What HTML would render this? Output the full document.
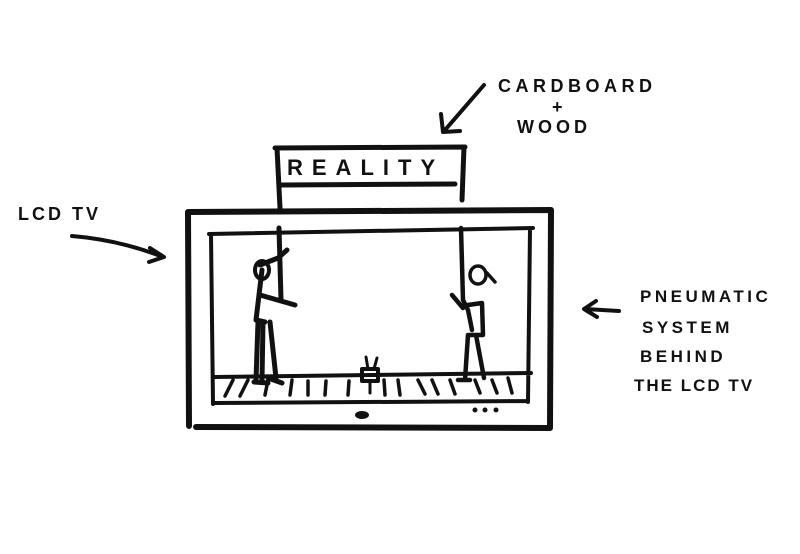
<!DOCTYPE html>
<html><head><style>html,body{margin:0;padding:0;background:#fff}svg{display:block}</style></head>
<body>
<svg width="800" height="554" viewBox="0 0 800 554" xmlns="http://www.w3.org/2000/svg">
<rect width="800" height="554" fill="#fff"/>
<g stroke="#111" stroke-linecap="round" stroke-linejoin="round" fill="none">
<path d="M275 148 L465 147 M277 148 L280 208 M464 147 L462 200 M282 185 L455 184" stroke-width="5"/>
<path d="M189 212 L551 210 M188 212 L189 426 M551 210 L550 427 M196 427 L550 428" stroke-width="6"/>
<path d="M209 234 L533 228 M211 235 L213 404 M530 229 L528 402 M215 403 L528 401 M215 377 L531 373" stroke-width="4"/>
<path d="M225 396 L233 380 M240 396 L248 380 M265 395 L268 380 M290 395 L292 380 M308 395 L308 381 M325 395 L326 381 M348 395 L349 381 M385 395 L384 380 M400 395 L398 380 M425 394 L418 380 M438 394 L432 380 M455 394 L450 380 M480 393 L475 380 M497 393 L492 380 M512 393 L508 378" stroke-width="3.5"/>
<rect x="362" y="369" width="16" height="12" stroke-width="4"/>
<path d="M370 381 L370 393 M366 357 L368 369 M377 358 L374 369" stroke-width="3"/>
<path d="M279 228 L281 300 M260 265 L278 258 L287 250 M262 270 L256 320 L265 322 M260 295 L295 305 M258 322 L256 380 M263 322 L262 380 M270 322 L276 378 M254 382 L268 383 M268 378 L282 383" stroke-width="5"/>
<ellipse cx="262" cy="270" rx="7" ry="9" stroke-width="4"/>
<path d="M461 228 L463 300 M463 300 L468 310 L472 330 M452 295 L463 308 M468 305 L482 303 L483 335 L468 335 L465 380 M476 335 L484 378 M458 380 L470 380" stroke-width="4.5"/>
<ellipse cx="478" cy="275" rx="8" ry="9" stroke-width="3.5"/>
<path d="M487 273 L495 282" stroke-width="3.5"/>
<ellipse cx="362" cy="415" rx="6" ry="3" fill="#111" stroke-width="2"/>
<circle cx="475" cy="410" r="2" fill="#111"/><circle cx="485" cy="410" r="2" fill="#111"/><circle cx="496" cy="410" r="2" fill="#111"/>
<path d="M72 236 Q120 240 163 257 M150 248 L164 257 L149 262" stroke-width="4"/>
<path d="M484 85 L445 130 M441 114 L443 132 L460 131" stroke-width="4"/>
<path d="M619 311 L585 309 M596 301 L584 309 L597 317" stroke-width="4"/>
</g>
<g font-family="Liberation Sans, sans-serif" font-weight="bold" fill="#111">
<text x="287" y="175" font-size="22" letter-spacing="9">REALITY</text>
<text x="18" y="220" font-size="18" letter-spacing="3">LCD TV</text>
<text x="498" y="92" font-size="18" letter-spacing="4.5">CARDBOARD</text>
<text x="552" y="113" font-size="18">+</text>
<text x="517" y="133" font-size="18" letter-spacing="4">WOOD</text>
<text x="640" y="302" font-size="17" letter-spacing="3.5">PNEUMATIC</text>
<text x="642" y="333" font-size="17" letter-spacing="3.5">SYSTEM</text>
<text x="640" y="362" font-size="17" letter-spacing="3.5">BEHIND</text>
<text x="634" y="391" font-size="17" letter-spacing="2">THE LCD TV</text>
</g>
</svg>
</body></html>
